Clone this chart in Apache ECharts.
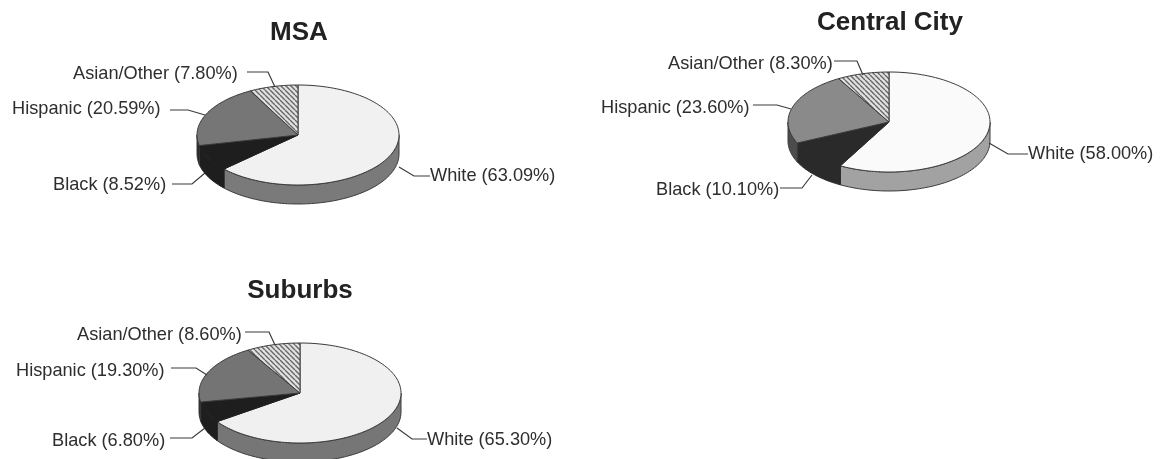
<!DOCTYPE html>
<html>
<head>
<meta charset="utf-8">
<style>html,body{margin:0;padding:0;background:#fff}#chart{width:1163px;height:459px}</style>
<script src="https://cdn.jsdelivr.net/npm/echarts@6/dist/echarts.min.js"></script>
</head>
<body>
<div id="chart"></div>
<script>
// Population shares by area, in percent
const categories = ['White', 'Black', 'Hispanic', 'Asian/Other'];
const msaShares = [63.09, 8.52, 20.59, 7.80];
const centralCityShares = [58.00, 10.10, 23.60, 8.30];
const suburbsShares = [65.30, 6.80, 19.30, 8.60];

// Diagonal hatch used for the Asian/Other slice
function hatchPattern() {
  const size = 5;
  const c = document.createElement('canvas');
  c.width = c.height = size;
  const g = c.getContext('2d');
  g.fillStyle = '#e2e2e2';
  g.fillRect(0, 0, size, size);
  g.strokeStyle = '#666666';
  g.lineWidth = 1.4;
  g.beginPath();
  for (let i = -size; i <= size; i += size) { g.moveTo(i, 0); g.lineTo(i + size, size); }
  g.stroke();
  return { image: c, repeat: 'repeat' };
}
const hatch = hatchPattern();

const RX = 101, RY = 50, DEPTH = 19;
const lineColor = '#3a3a3a';
const textColor = '#2e2e2e';
const BLACK_SLICE = 1;

const panels = [
  {
    title: 'MSA', shares: msaShares, cx: 298, cy: 135, titleX: 294, titleY: 28,
    top: ['#f1f1f1', '#1e1e1e', '#767676', hatch], side: ['#7a7a7a', '#1e1e1e', '#262626', '#555555'],
    labels: [
      { x: 430, y: 176, anchor: [[399, 167], [414, 176], [430, 176]] },
      { x: 53, y: 185, anchor: [[172, 184], [192, 184], [205, 173]] },
      { x: 12, y: 109, anchor: [[170, 110], [188, 110], [205, 115]] },
      { x: 73, y: 74, anchor: [[247, 72], [268, 72], [275, 87]] }
    ]
  },
  {
    title: 'Central City', shares: centralCityShares, cx: 889, cy: 122, titleX: 885, titleY: 18,
    top: ['#fafafa', '#2a2a2a', '#8a8a8a', hatch], side: ['#a2a2a2', '#2a2a2a', '#4c4c4c', '#555555'],
    labels: [
      { x: 1028, y: 154, anchor: [[989, 143], [1008, 154], [1028, 154]] },
      { x: 656, y: 190, anchor: [[780, 188], [802, 188], [812, 175]] },
      { x: 601, y: 108, anchor: [[753, 105], [777, 105], [791, 109]] },
      { x: 668, y: 64, anchor: [[834, 61], [857, 61], [863, 75]] }
    ]
  },
  {
    title: 'Suburbs', shares: suburbsShares, cx: 300, cy: 393, titleX: 295, titleY: 286,
    top: ['#f0f0f0', '#1e1e1e', '#747474', hatch], side: ['#767676', '#1e1e1e', '#262626', '#555555'],
    labels: [
      { x: 427, y: 440, anchor: [[397, 428], [412, 439], [427, 439]] },
      { x: 52, y: 441, anchor: [[170, 438], [192, 438], [205, 428]] },
      { x: 16, y: 371, anchor: [[171, 368], [196, 368], [207, 375]] },
      { x: 77, y: 335, anchor: [[245, 332], [269, 332], [275, 345]] }
    ]
  }
];

// Point on the tilted rim, t measured clockwise from twelve o'clock
function rim(p, t, drop) {
  return [p.cx + RX * Math.sin(t), p.cy - RY * Math.cos(t) + (drop || 0)];
}
function arc(p, a, b, drop) {
  const n = Math.max(2, Math.ceil(Math.abs(b - a) / 0.03));
  const pts = [];
  for (let i = 0; i <= n; i++) pts.push(rim(p, a + (b - a) * i / n, drop));
  return pts;
}

function sliceRenderer(p) {
  return function (params, api) {
    const i = params.dataIndex;
    const value = api.value(0);
    const total = p.shares.reduce((s, v) => s + v, 0);
    const before = p.shares.slice(0, i).reduce((s, v) => s + v, 0);
    const a = before / total * Math.PI * 2;
    const b = a + value / total * Math.PI * 2;
    // The dark slice has no visible seam between its top and its wall
    const edge = i === BLACK_SLICE ? p.top[i] : lineColor;
    const children = [];

    // Visible wall: only the part of the slice on the front half of the disc
    const fa = Math.max(a, Math.PI / 2), fb = Math.min(b, Math.PI * 1.5);
    if (fb > fa) {
      children.push({
        type: 'polygon',
        shape: { points: arc(p, fa, fb, 0).concat(arc(p, fb, fa, DEPTH)) },
        style: { fill: p.side[i], stroke: edge, lineWidth: 1 }
      });
    }
    // Top face
    children.push({
      type: 'polygon',
      shape: { points: [[p.cx, p.cy]].concat(arc(p, a, b, 0)) },
      style: { fill: p.top[i], stroke: edge, lineWidth: 1 }
    });
    // Leader and label
    const lab = p.labels[i];
    children.push({
      type: 'polyline',
      shape: { points: lab.anchor },
      style: { fill: null, stroke: '#3a3a3a', lineWidth: 1.2 }
    });
    children.push({
      type: 'text',
      style: {
        x: lab.x, y: lab.y,
        text: categories[i] + ' (' + value.toFixed(2) + '%)',
        fill: textColor,
        font: '18.2px "Liberation Sans", Arial, sans-serif',
        textAlign: 'left', textVerticalAlign: 'middle'
      }
    });
    return { type: 'group', children: children };
  };
}

const chart = echarts.init(document.getElementById('chart'), null, { renderer: 'canvas' });
chart.setOption({
  animation: false,
  backgroundColor: '#ffffff',
  title: panels.map(p => ({
    text: p.title, left: p.titleX, top: p.titleY - 14, textAlign: 'center',
    textStyle: { fontFamily: '"Liberation Sans", Arial, sans-serif', fontSize: 26, fontWeight: 'bold', color: '#222222', lineHeight: 28 }
  })),
  series: panels.map(p => ({
    type: 'custom',
    name: p.title,
    coordinateSystem: 'none',
    silent: true,
    clip: false,
    data: p.shares.map(v => [v]),
    renderItem: sliceRenderer(p)
  }))
});
</script>
</body>
</html>
